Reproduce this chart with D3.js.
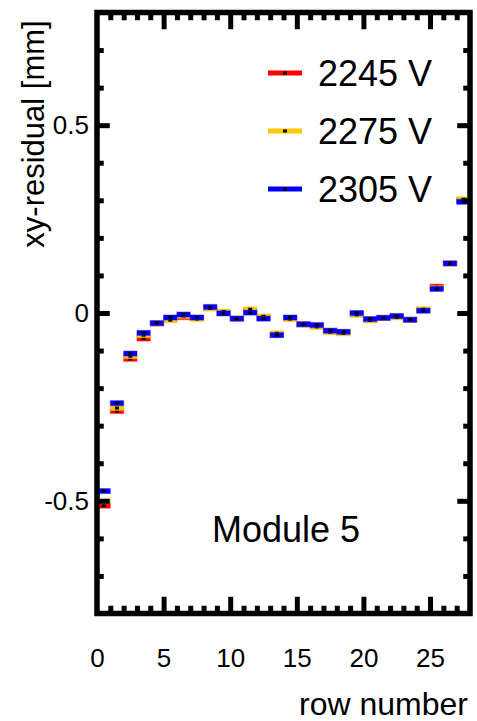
<!DOCTYPE html>
<html>
<head>
<meta charset="utf-8">
<script src="https://cdn.jsdelivr.net/npm/d3@7"></script>
<style>
  body { margin: 0; background: #fff; }
  svg text { font-family: "Liberation Sans", Arial, Helvetica, sans-serif; fill: #000; }
</style>
</head>
<body>
<svg id="chart" width="477" height="721"></svg>
<script>
// Row numbers (each row occupies [row, row+1] on the x axis)
const rows = d3.range(0, 28);

// xy-residual per row, in mm, for each high-voltage setting
const res2245 = [-0.513, -0.261, -0.122, -0.068, -0.028, -0.017, -0.011, -0.013, 0.013, 0.000,
                 -0.015, 0.005, -0.012, -0.057, -0.014, -0.030, -0.035, -0.049, -0.052, -0.003,
                 -0.018, -0.013, -0.010, -0.018, 0.008, 0.070, 0.132, 0.300];
const res2275 = [-0.501, -0.253, -0.115, -0.059, -0.027, -0.019, -0.008, -0.016, 0.012, 0.004,
                 -0.015, 0.010, -0.009, -0.054, -0.016, -0.031, -0.037, -0.051, -0.054, -0.005,
                 -0.020, -0.014, -0.012, -0.018, 0.010, 0.066, 0.132, 0.303];
const res2305 = [-0.474, -0.240, -0.108, -0.053, -0.027, -0.012, -0.004, -0.012, 0.016, -0.001,
                 -0.015, 0.001, -0.015, -0.059, -0.012, -0.030, -0.032, -0.047, -0.050, 0.000,
                 -0.016, -0.013, -0.008, -0.018, 0.006, 0.064, 0.132, 0.296];

const seriesNames = ["2245 V", "2275 V", "2305 V"];
const seriesColors = ["#ff0000", "#ffc800", "#0000ff"];
const seriesValues = [res2245, res2275, res2305];

const xMajorTicks = [0, 5, 10, 15, 20, 25];
const yMajorTicks = [-0.5, 0, 0.5];
const panelLabel = "Module 5";

const svg = d3.select("#chart");

const x = d3.scaleLinear().domain([0, 28]).range([97, 470]);
const y = d3.scaleLinear().domain([-0.8, 0.8]).range([613.5, 12.5]);

const frameW = 5.5;
const half = frameW / 2;

// Data: one thick horizontal segment per row, with a small black error marker
const barH = 5;
seriesValues.forEach((vals, s) => {
  const g = svg.append("g");
  rows.forEach(r => {
    g.append("rect")
      .attr("x", x(r))
      .attr("y", y(vals[r]) - barH / 2)
      .attr("width", x(r + 1) - x(r))
      .attr("height", barH)
      .attr("fill", seriesColors[s])
      .attr("stroke", seriesColors[s])
      .attr("stroke-opacity", 0.35)
      .attr("stroke-width", 1.2);
    g.append("rect")
      .attr("x", x(r + 0.5) - 2)
      .attr("y", y(vals[r]) - 1.5)
      .attr("width", 4)
      .attr("height", 3)
      .attr("fill", "#000");
  });
});

// Inward ticks on all four sides
function styleTicks(g) {
  g.select(".domain").remove();
  g.selectAll(".tick line").attr("stroke", "#000").attr("stroke-width", 5);
  g.selectAll(".tick text").remove();
}
const xMinor = d3.range(1, 28).filter(v => v % 5 !== 0);
const xMajorInner = [5, 10, 15, 20, 25];
const yMinor = d3.range(-7, 8).map(v => v / 10).filter(v => Math.abs(v * 2 - Math.round(v * 2)) > 1e-9);

svg.append("g").attr("transform", `translate(0,${y(-0.8)})`)
  .call(d3.axisBottom(x).tickValues(xMinor).tickSize(-(half + 5))).call(styleTicks);
svg.append("g").attr("transform", `translate(0,${y(-0.8)})`)
  .call(d3.axisBottom(x).tickValues(xMajorInner).tickSize(-(half + 14))).call(styleTicks);
svg.append("g").attr("transform", `translate(0,${y(0.8)})`)
  .call(d3.axisTop(x).tickValues(xMinor).tickSize(-(half + 5))).call(styleTicks);
svg.append("g").attr("transform", `translate(0,${y(0.8)})`)
  .call(d3.axisTop(x).tickValues(xMajorInner).tickSize(-(half + 14))).call(styleTicks);

svg.append("g").attr("transform", `translate(${x(0)},0)`)
  .call(d3.axisLeft(y).tickValues(yMinor).tickSize(-(half + 4))).call(styleTicks);
svg.append("g").attr("transform", `translate(${x(0)},0)`)
  .call(d3.axisLeft(y).tickValues(yMajorTicks).tickSize(-(half + 10))).call(styleTicks);
svg.append("g").attr("transform", `translate(${x(28)},0)`)
  .call(d3.axisRight(y).tickValues(yMinor).tickSize(-(half + 4))).call(styleTicks);
svg.append("g").attr("transform", `translate(${x(28)},0)`)
  .call(d3.axisRight(y).tickValues(yMajorTicks).tickSize(-(half + 10))).call(styleTicks);

// Frame
svg.append("rect")
  .attr("x", x(0)).attr("y", y(0.8))
  .attr("width", x(28) - x(0)).attr("height", y(-0.8) - y(0.8))
  .attr("fill", "none").attr("stroke", "#000").attr("stroke-width", frameW);

// Tick labels
const xLab = svg.append("g").attr("transform", `translate(0,${y(-0.8)})`)
  .call(d3.axisBottom(x).tickValues(xMajorTicks).tickSize(0).tickPadding(35).tickFormat(d => String(d)));
xLab.select(".domain").remove();
xLab.selectAll("text").style("font-size", "26px").attr("fill", "#000");

const yLab = svg.append("g").attr("transform", `translate(${x(0)},0)`)
  .call(d3.axisLeft(y).tickValues(yMajorTicks).tickSize(0).tickPadding(8).tickFormat(d => String(d)));
yLab.select(".domain").remove();
yLab.selectAll("text").style("font-size", "26px").attr("fill", "#000");

// Axis titles
svg.append("text")
  .attr("x", 468).attr("y", 715)
  .attr("text-anchor", "end")
  .style("font-size", "32px")
  .text("row number");

svg.append("text")
  .attr("transform", "translate(44,134) rotate(-90)")
  .attr("text-anchor", "middle")
  .style("font-size", "31px")
  .text("xy-residual [mm]");

// Legend
const legendY = [73, 131, 189];
seriesNames.forEach((name, s) => {
  svg.append("rect")
    .attr("x", 268).attr("y", legendY[s] - 2.5)
    .attr("width", 34).attr("height", 5)
    .attr("fill", seriesColors[s]);
  svg.append("rect")
    .attr("x", 283).attr("y", legendY[s] - 1.5)
    .attr("width", 4).attr("height", 3)
    .attr("fill", "#000");
  svg.append("text")
    .attr("x", 318).attr("y", legendY[s] + 12.5)
    .style("font-size", "36px")
    .text(name);
});

// Panel label
svg.append("text")
  .attr("x", 212).attr("y", 542)
  .style("font-size", "36px")
  .text(panelLabel);
</script>
</body>
</html>
